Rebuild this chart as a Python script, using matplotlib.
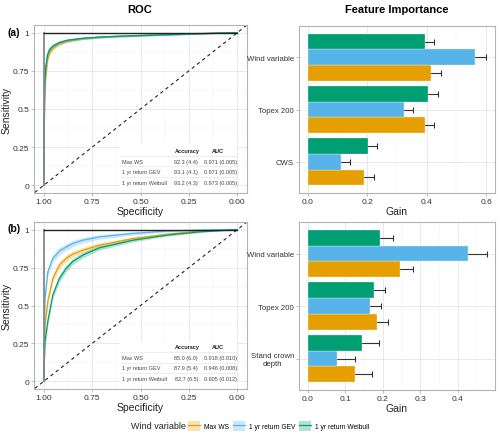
import matplotlib
matplotlib.use("Agg")
import matplotlib.pyplot as plt
from matplotlib.patches import Patch
from matplotlib.lines import Line2D
from matplotlib.ticker import MultipleLocator

plt.rcParams["font.family"] = ["Liberation Sans", "DejaVu Sans"]

series = ["Max WS", "1 yr return GEV", "1 yr return Weibull"]
colors = ["#E69F00", "#56B4E9", "#009E73"]

# ROC curves (specificity, sensitivity, band half-width)
spec_a = [1.0, 0.995, 0.99, 0.98, 0.97, 0.95, 0.92, 0.88, 0.8, 0.7, 0.6, 0.5, 0.4, 0.3, 0.2, 0.1, 0.0]
sens_a = {
    "Max WS": [0, 0.55, 0.70, 0.82, 0.865, 0.90, 0.925, 0.942, 0.96, 0.971, 0.977, 0.982, 0.986, 0.990, 0.994, 0.997, 1.0],
    "1 yr return GEV": [0, 0.62, 0.76, 0.85, 0.885, 0.912, 0.932, 0.947, 0.962, 0.971, 0.976, 0.980, 0.984, 0.988, 0.992, 0.996, 1.0],
    "1 yr return Weibull": [0, 0.64, 0.77, 0.855, 0.89, 0.915, 0.935, 0.95, 0.963, 0.972, 0.977, 0.981, 0.985, 0.989, 0.993, 0.997, 1.0],
}
band_a = [0, 0.03, 0.025, 0.02, 0.015, 0.012, 0.01, 0.008, 0.007, 0.006, 0.005, 0.005, 0.004, 0.004, 0.003, 0.002, 0]

spec_b = [1.0, 0.993, 0.979, 0.953, 0.919, 0.884, 0.85, 0.798, 0.712, 0.539, 0.366, 0.193, 0.0]
sens_b = {
    "Max WS": [0, 0.372, 0.525, 0.678, 0.766, 0.81, 0.838, 0.864, 0.897, 0.941, 0.969, 0.991, 1.0],
    "1 yr return GEV": [0, 0.55, 0.72, 0.81, 0.858, 0.885, 0.908, 0.93, 0.952, 0.975, 0.99, 0.997, 1.0],
    "1 yr return Weibull": [0, 0.263, 0.394, 0.569, 0.678, 0.744, 0.79, 0.832, 0.88, 0.93, 0.963, 0.985, 1.0],
}
band_b = [0, 0.035, 0.03, 0.027, 0.024, 0.022, 0.02, 0.018, 0.015, 0.011, 0.007, 0.004, 0]

acc_a = ["92.3 (4.4)", "93.1 (4.1)", "93.2 (4.3)"]
auc_a = ["0.971 (0.005)", "0.971 (0.005)", "0.973 (0.005)"]
acc_b = ["85.0 (6.0)", "87.9 (5.4)", "82.7 (6.5)"]
auc_b = ["0.918 (0.010)", "0.946 (0.008)", "0.905 (0.012)"]

# Feature importance (gain, error)
feat_a = ["Wind variable", "Topex 200", "CWS"]
gain_a = {
    "Max WS": [0.415, 0.395, 0.189],
    "1 yr return GEV": [0.563, 0.323, 0.111],
    "1 yr return Weibull": [0.393, 0.403, 0.202],
}
err_a = {
    "Max WS": [0.032, 0.030, 0.032],
    "1 yr return GEV": [0.037, 0.030, 0.030],
    "1 yr return Weibull": [0.032, 0.036, 0.032],
}
feat_b = ["Wind variable", "Topex 200", "Stand crown\ndepth"]
gain_b = {
    "Max WS": [0.245, 0.184, 0.125],
    "1 yr return GEV": [0.426, 0.165, 0.078],
    "1 yr return Weibull": [0.193, 0.177, 0.143],
}
err_b = {
    "Max WS": [0.035, 0.029, 0.047],
    "1 yr return GEV": [0.051, 0.029, 0.047],
    "1 yr return Weibull": [0.033, 0.029, 0.047],
}

W, H = 500, 439
fig = plt.figure(figsize=(W / 100, H / 100), dpi=100)


def px_axes(left, top, right, bottom):
    return fig.add_axes([left / W, 1 - bottom / H, (right - left) / W, (bottom - top) / H])


def style(ax):
    for s in ax.spines.values():
        s.set_color("#b3b3b3")
        s.set_linewidth(0.8)
    ax.tick_params(colors="#b3b3b3", labelcolor="#333333", labelsize=6, length=2, width=0.6, pad=1.5)
    ax.tick_params(which="minor", length=0)
    ax.grid(True, which="major", color="#e0e0e0", lw=0.5)
    ax.grid(True, which="minor", color="#efefef", lw=0.3)
    ax.set_axisbelow(True)


def roc_panel(ax, spec, sens, band, acc, auc):
    style(ax)
    ax.plot([1.1, -0.1], [-0.1, 1.1], ls=(0, (3, 3)), color="#222222", lw=0.8)
    for name, c in zip(series, colors):
        lo = [s - b for s, b in zip(sens[name], band)]
        hi = [min(1, s + b) for s, b in zip(sens[name], band)]
        ax.fill_between(spec, lo, hi, color=c, alpha=0.3, lw=0)
    for name, c in zip(series, colors):
        ax.plot(spec, sens[name], color=c, lw=0.9)
    ax.plot([1, 1], [0, 1], color="#888888", lw=1.3)
    ax.plot([1, 0], [1, 1], color="#222222", lw=1.0)
    ax.set_xlim(1.05, -0.05)
    ax.set_ylim(-0.05, 1.05)
    ax.set_xticks([1, 0.75, 0.5, 0.25, 0])
    ax.set_xticklabels(["1.00", "0.75", "0.50", "0.25", "0.00"])
    ax.set_yticks([0, 0.25, 0.5, 0.75, 1])
    ax.set_yticklabels(["0", "0.25", "0.5", "0.75", "1"])
    ax.xaxis.set_minor_locator(MultipleLocator(0.125))
    ax.yaxis.set_minor_locator(MultipleLocator(0.125))
    ax.set_xlabel("Specificity", fontsize=7.5, color="#222222", labelpad=1)
    ax.set_ylabel("Sensitivity", fontsize=7.5, color="#222222", labelpad=1)

    # table
    tr = ax.transAxes
    ax.add_patch(plt.Rectangle((0.405, 0.03), 0.55, 0.26, transform=tr,
                               facecolor="white", edgecolor="none", zorder=5))
    for yl in [0.22, 0.158, 0.095]:
        ax.plot([0.405, 0.955], [yl, yl], transform=tr, color="#e6e6e6", lw=0.5, zorder=6)
    fs = 4.0
    ax.text(0.72, 0.252, "Accuracy", transform=tr, fontsize=fs, weight="bold",
            ha="center", va="center", zorder=7, color="#222222")
    ax.text(0.865, 0.252, "AUC", transform=tr, fontsize=fs, weight="bold",
            ha="center", va="center", zorder=7, color="#222222")
    for yr, name, a, u in zip([0.189, 0.127, 0.064], series, acc, auc):
        ax.text(0.414, yr, name, transform=tr, fontsize=fs, ha="left", va="center", zorder=7, color="#444444")
        ax.text(0.77, yr, a, transform=tr, fontsize=fs, ha="right", va="center", zorder=7, color="#444444")
        ax.text(0.952, yr, u, transform=tr, fontsize=fs, ha="right", va="center", zorder=7, color="#444444")


def bar_panel(ax, feats, gain, err, xmax, ticks):
    style(ax)
    offs = {"1 yr return Weibull": -0.3, "1 yr return GEV": 0.0, "Max WS": 0.3}
    for name, c in zip(series, colors):
        ys = [i + offs[name] for i in range(len(feats))]
        ax.errorbar(gain[name], ys, xerr=err[name], fmt="none", ecolor="#333333",
                    elinewidth=0.8, capsize=2.5, capthick=0.8, zorder=2)
        ax.barh(ys, gain[name], height=0.3, color=c, edgecolor="white", lw=0.2, zorder=3)
    ax.set_yticks(range(len(feats)))
    ax.set_yticklabels(feats, fontsize=5.6, multialignment="center")
    ax.set_ylim(len(feats) - 0.4, -0.6)
    ax.set_xlim(-0.05 * xmax, 1.05 * xmax)
    ax.set_xticks(ticks)
    ax.set_xticklabels([f"{t:.1f}" for t in ticks])
    ax.xaxis.set_minor_locator(MultipleLocator((ticks[1] - ticks[0]) / 2))
    ax.set_xlabel("Gain", fontsize=7.5, color="#222222", labelpad=1)


ax1 = px_axes(34, 26, 247, 194)
roc_panel(ax1, spec_a, sens_a, band_a, acc_a, auc_a)
ax2 = px_axes(34, 223, 247, 390)
roc_panel(ax2, spec_b, sens_b, band_b, acc_b, auc_b)
ax3 = px_axes(299, 27, 495, 194)
bar_panel(ax3, feat_a, gain_a, err_a, 0.60, [0, 0.2, 0.4, 0.6])
ax4 = px_axes(299, 223, 495, 391)
bar_panel(ax4, feat_b, gain_b, err_b, 0.475, [0, 0.1, 0.2, 0.3, 0.4])

fig.text(140 / W, 1 - 10 / H, "ROC", fontsize=8, weight="bold", ha="center", va="center")
fig.text(397 / W, 1 - 10 / H, "Feature Importance", fontsize=8, weight="bold", ha="center", va="center")
fig.text(8 / W, 1 - 33 / H, "(a)", fontsize=7.5, weight="bold", ha="left", va="center")
fig.text(8 / W, 1 - 229 / H, "(b)", fontsize=7.5, weight="bold", ha="left", va="center")

handles = [(Patch(facecolor=c, alpha=0.3, lw=0), Line2D([], [], color=c, lw=0.9)) for c in colors]
fig.text(186 / W, 1 - 427 / H, "Wind variable", fontsize=6.5, ha="right", va="center", color="#222222")
fig.legend(handles, series, loc="center left", bbox_to_anchor=(188 / W, 1 - 427 / H), ncol=3,
           frameon=False, fontsize=4.8, handlelength=1.8, handleheight=1.8, columnspacing=0.6,
           handletextpad=0.6, borderaxespad=0, borderpad=0)

fig.savefig("out.png", dpi=100)
